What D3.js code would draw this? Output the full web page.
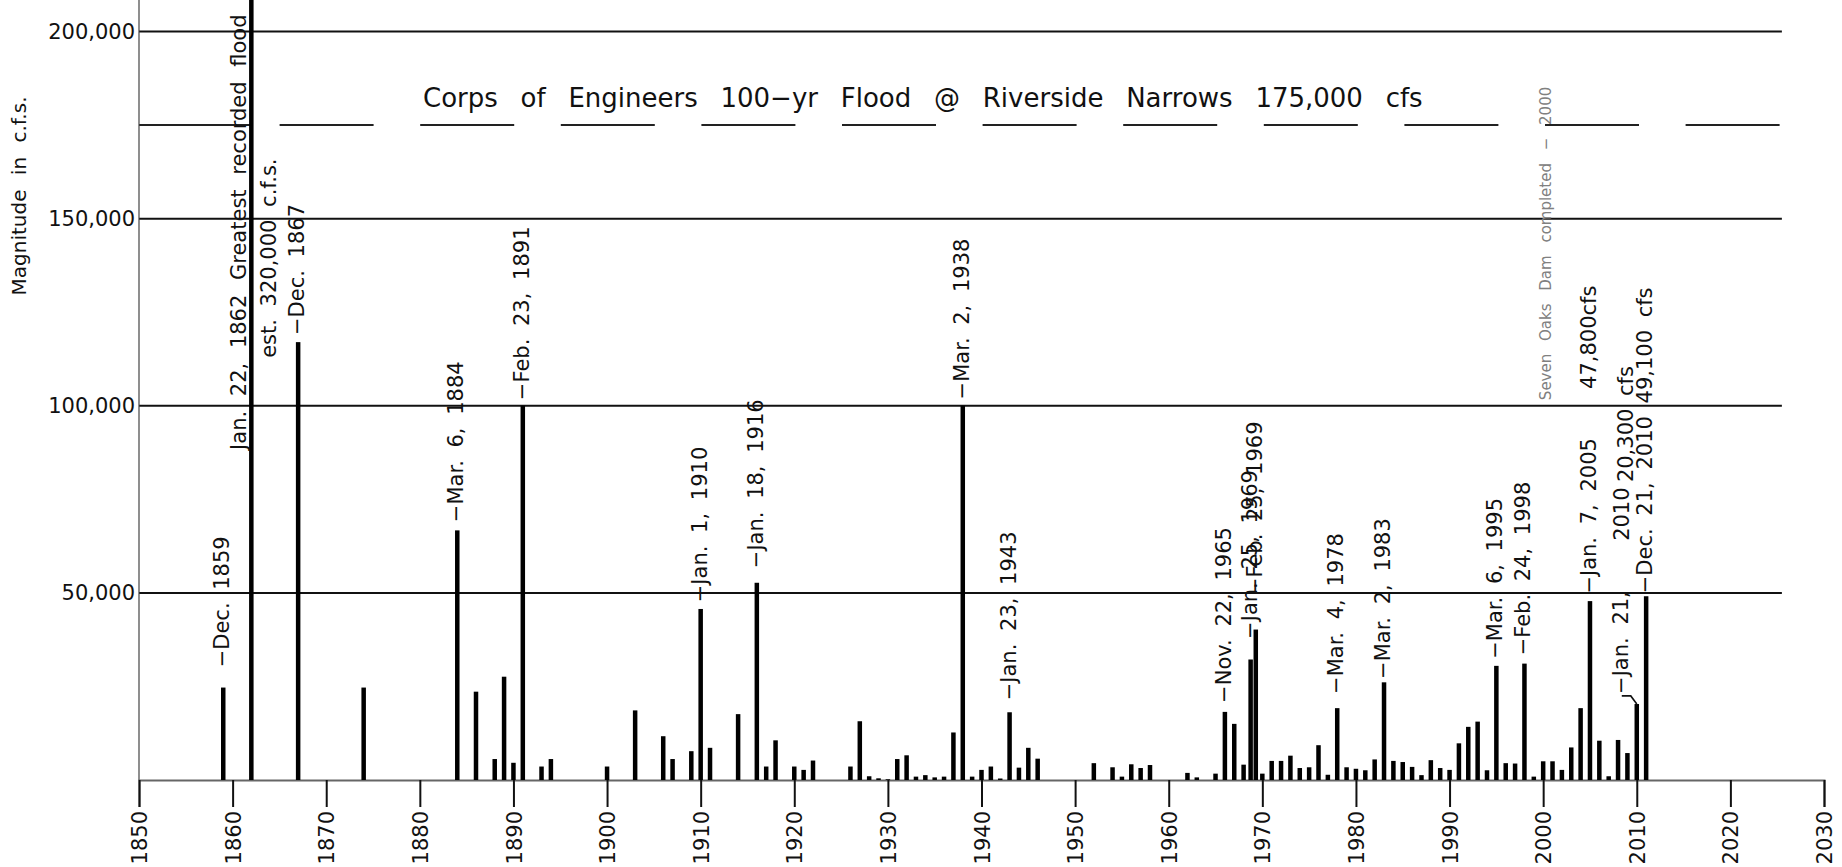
<!DOCTYPE html>
<html><head><meta charset="utf-8">
<script src="https://cdn.jsdelivr.net/npm/d3@7/dist/d3.min.js"></script>
<style>
html,body{margin:0;padding:0;background:#fff;}
svg{display:block;font-family:"DejaVu Sans",sans-serif;}
</style></head><body>
<svg id="chart" width="1842" height="867"></svg>
<script>
// ---------- data ----------
const years = [1859,1862,1867,1874,1884,1886,1888,1889,1890,1891,1893,1894,
  1900,1903,1906,1907,1909,1910,1911,1914,1916,1917,1918,1920,1921,1922,
  1926,1927,1928,1929,1930,1931,1932,1933,1934,1935,1936,1937,1938,1939,
  1940,1941,1942,1943,1944,1945,1946,1952,1954,1955,1956,1957,1958,1962,
  1963,1965,1966,1967,1968,1968.75,1969.3,1970,1971,1972,1973,1974,1975,
  1976,1977,1978,1979,1980,1981,1982,1983,1984,1985,1986,1987,1988,1989,
  1990,1991,1992,1993,1994,1995,1996,1997,1998,1999,2000,2001,2002,2003,
  2004,2005,2006,2007,2008,2009,2010,2011];
const flows = [24700,320000,117000,24700,66700,23600,5600,27600,4600,100000,3600,5600,
  3600,18600,11700,5600,7700,45700,8600,17600,52700,3600,10600,3600,2700,5200,
  3600,15700,1000,450,200,5600,6600,900,1300,700,900,12700,100000,900,
  2700,3600,400,18100,3300,8600,5700,4500,3400,900,4200,3200,4000,1900,
  700,1700,18200,15000,4100,32200,40200,1700,5100,5100,6500,3200,3400,
  9300,1400,19200,3400,3000,2600,5500,26100,5100,4800,3500,1300,5300,3200,
  2700,9800,14200,15600,2600,30500,4500,4400,31100,900,5000,5000,2700,8700,
  19200,47800,10500,1000,10700,7200,20300,49100];

const yTicks = [50000,100000,150000,200000];
const xTicks = [1850,1860,1870,1880,1890,1900,1910,1920,1930,1940,1950,1960,1970,1980,1990,2000,2010,2020,2030];
const designFlood = 175000;
const gridEndYear = 2025.5;

const titleText = "Corps of Engineers 100\u2212yr Flood @ Riverside Narrows 175,000 cfs";
const yTitle = "Magnitude in c.f.s.";

// annotations: year of the bar, flow level (cfs) where the text starts, text, kind
const annoYears  = [1859,1862,1862,1867,1884,1891,1910,1916,1938,1943,1966,1968.75,1969.3,1978,1983,1995,1998,2005,2005,2010,2010,2010,2011,2000];
const annoLevels = [30100,88200,112800,118900,68900,101500,47500,56600,101700,21300,20600,37700,49400,23000,27000,32400,33300,49800,104500,23000,63900,79600,49900,101500];
const annoTexts  = [
  "\u2212Dec. 1859",
  "Jan. 22, 1862 Greatest recorded flood",
  "est. 320,000 c.f.s.",
  "\u2212Dec. 1867",
  "\u2212Mar. 6, 1884",
  "\u2212Feb. 23, 1891",
  "\u2212Jan. 1, 1910",
  "\u2212Jan. 18, 1916",
  "\u2212Mar. 2, 1938",
  "\u2212Jan. 23, 1943",
  "\u2212Nov. 22, 1965",
  "\u2212Jan. 25, 1969",
  "\u2212Feb. 25, 1969",
  "\u2212Mar. 4, 1978",
  "\u2212Mar. 2, 1983",
  "\u2212Mar. 6, 1995",
  "\u2212Feb. 24, 1998",
  "\u2212Jan. 7, 2005",
  "47,800cfs",
  "\u2212Jan. 21,",
  "2010",
  "20,300 cfs",
  "\u2212Dec. 21, 2010 49,100 cfs",
  "Seven Oaks Dam completed \u2212 2000"];
const annoKinds = ["tick","left","right","tick","tick","tick","tick","tick","tick","tick","tick","tick","tick","tick","tick","tick","tick","tick","tick","leader","shifted","note","tick","dam"];

// ---------- drawing ----------
const svg = d3.select("#chart");
const x = d3.scaleLinear().domain([1850, 2030]).range([139, 1824]);
const y = d3.scaleLinear().domain([0, 200000]).range([780, 31.5]);
const base = y(0);

// horizontal grid lines
svg.append("g").selectAll("line").data(yTicks).join("line")
  .attr("x1", x(1850)).attr("x2", x(gridEndYear))
  .attr("y1", d => y(d)).attr("y2", d => y(d))
  .attr("stroke", "#111").attr("stroke-width", 2);

// 100-yr flood dashed line (first dash runs up to the 1862 bar)
const dashes = [112, 28.6];
for (let i = 0; i < 12; i++) dashes.push(94, 46.6);
svg.append("line")
  .attr("x1", x(1850)).attr("x2", x(gridEndYear))
  .attr("y1", y(designFlood)).attr("y2", y(designFlood))
  .attr("stroke", "#222").attr("stroke-width", 2)
  .attr("stroke-dasharray", dashes.join(" "));

// title
svg.append("text")
  .attr("x", 423).attr("y", 107)
  .attr("font-size", 26).style("word-spacing", "14.5px")
  .attr("fill", "#111")
  .text(titleText);

// y axis
const yAxis = svg.append("g").attr("transform", `translate(${x(1850)},0)`)
  .call(d3.axisLeft(y).tickValues(yTicks).tickSize(0).tickPadding(4).tickFormat(d3.format(",")));
yAxis.select(".domain").remove();
yAxis.selectAll("text").attr("font-size", 21).attr("font-family", "DejaVu Sans").attr("fill", "#111");
svg.append("line").attr("x1", x(1850)).attr("x2", x(1850)).attr("y1", 0).attr("y2", base)
  .attr("stroke", "#444").attr("stroke-width", 1.2);

svg.append("text")
  .attr("transform", `translate(26,196) rotate(-90)`)
  .attr("text-anchor", "middle").attr("font-size", 20)
  .style("word-spacing", "8px").attr("fill", "#111")
  .text(yTitle);

// x axis
const xAxis = svg.append("g").attr("transform", `translate(0,${base})`)
  .call(d3.axisBottom(x).tickValues(xTicks).tickSize(27).tickFormat(d3.format("d")));
xAxis.select(".domain").attr("stroke", "#666").attr("stroke-width", 2);
xAxis.selectAll(".tick line").attr("stroke", "#111").attr("stroke-width", 2);
xAxis.selectAll(".tick text")
  .attr("transform", "rotate(-90)")
  .attr("x", -31).attr("y", 0).attr("dy", "0.36em")
  .attr("text-anchor", "end")
  .attr("font-size", 21).attr("font-family", "DejaVu Sans").attr("fill", "#111");

// bars
const bars = years.map((yr, i) => ({yr, v: flows[i]}));
svg.append("g").selectAll("rect").data(bars).join("rect")
  .attr("x", d => x(d.yr) - 2.25)
  .attr("width", 4.5)
  .attr("y", d => Math.max(0, y(d.v)))
  .attr("height", d => base - Math.max(0, y(d.v)))
  .attr("fill", "#000");

// annotations
const kindDx = {tick: 6, left: -5, right: 24.5, leader: -9, shifted: -8, note: -4, dam: 8};
const annos = annoYears.map((yr, i) => ({yr, lv: annoLevels[i], t: annoTexts[i], k: annoKinds[i]}));
const ag = svg.append("g");
ag.selectAll("text").data(annos).join("text")
  .attr("transform", d => `translate(${x(d.yr) + kindDx[d.k]},${y(d.lv)}) rotate(-90)`)
  .attr("text-anchor", "start")
  .attr("font-size", d => d.k === "dam" ? 15 : 21)
  .attr("fill", d => d.k === "dam" ? "#808080" : "#111")
  .style("word-spacing", d => d.k === "left" ? "8px" : (d.k === "dam" ? "8px" : "6px"))
  .text(d => d.t);

// leader line for the Jan. 21, 2010 label
annos.filter(d => d.k === "leader").forEach(d => {
  const i = years.indexOf(d.yr);
  const bx = x(d.yr), by = y(flows[i]);
  const lx = x(d.yr) + kindDx.leader - 6, ly = y(d.lv);
  svg.append("path")
    .attr("d", d3.line()([[bx, by], [bx - 6, ly + 2], [lx, ly + 2]]))
    .attr("fill", "none").attr("stroke", "#111").attr("stroke-width", 1.6);
});
</script>
</body></html>
